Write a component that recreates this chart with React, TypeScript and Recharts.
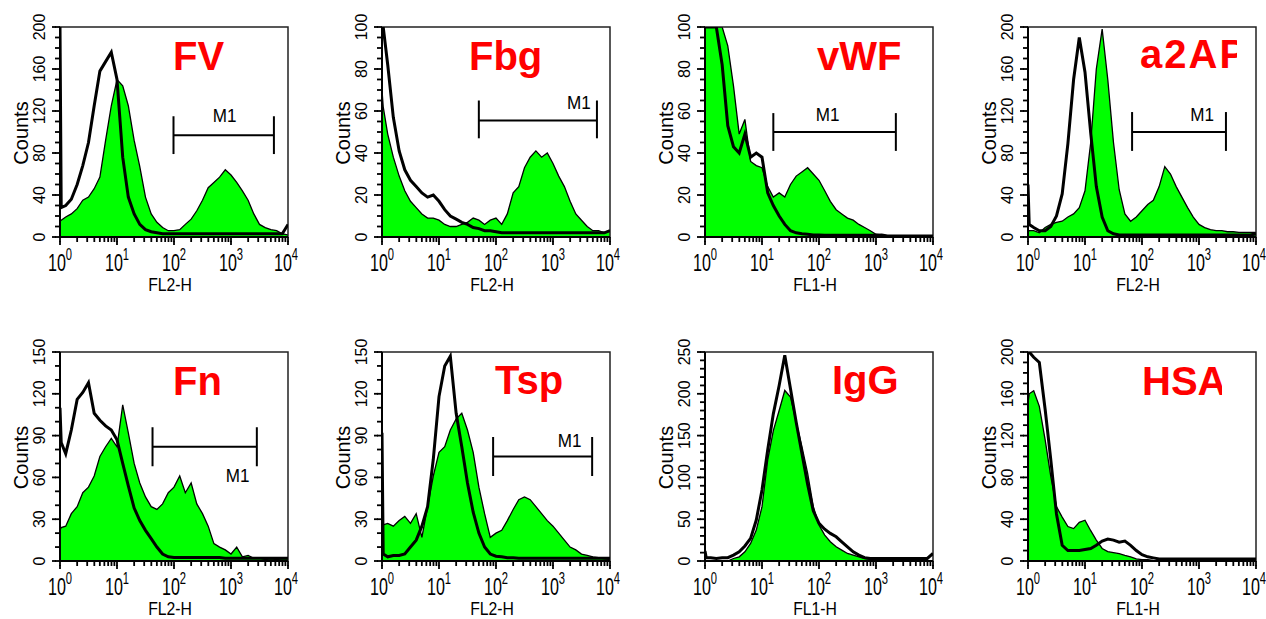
import React from 'react';
import { ComposedChart, Area, Line, XAxis, YAxis, ReferenceArea, ReferenceLine } from 'recharts';

// ---------- DATA ----------
// fluorescence channel values (log axis, 10^0 .. 10^4)
const FL = [1, 1.05, 1.26, 1.58, 2, 2.51, 3.16, 3.98, 5.01, 6.31, 7.94, 10, 12.6, 15.8, 20, 25.1, 31.6, 39.8, 50.1, 63.1, 79.4, 100, 126, 158, 200, 251, 316, 398, 501, 631, 794, 1000, 1259, 1585, 1995, 2512, 3162, 3981, 5012, 6310, 7943, 10000];

const X_MAJOR = [1, 10, 100, 1000, 10000];
const X_MINOR_MULT = [2, 3, 4, 5, 6, 7, 8, 9];

const TITLES = ['FV', 'Fbg', 'vWF', 'a2AP', 'Fn', 'Tsp', 'IgG', 'HSA'];
const X_LABELS = ['FL2-H', 'FL2-H', 'FL1-H', 'FL2-H', 'FL2-H', 'FL2-H', 'FL1-H', 'FL1-H'];
const Y_MAX = [200, 100, 100, 200, 150, 150, 250, 200];
const Y_LABEL_STEP = [40, 20, 20, 40, 30, 30, 50, 40];
const Y_MINOR_STEP = [10, 5, 5, 10, 10, 10, 10, 10];

const FV_GREEN = [15, 16, 19, 22, 27, 35, 38, 46, 57, 92, 125, 150, 144, 125, 92, 67, 38, 22, 14, 9, 6, 6, 7, 12, 17, 25, 35, 47, 52, 57, 64, 59, 52, 44, 35, 22, 12, 9, 7, 6, 3, 2];
const FV_BLACK = [200, 28, 30, 36, 50, 68, 90, 125, 158, 167, 176, 150, 76, 38, 22, 12, 7, 5, 4, 3, 3, 3, 3, 3, 3, 3, 3, 3, 3, 3, 3, 3, 3, 3, 3, 3, 3, 3, 3, 3, 3, 12];

const FBG_GREEN = [70, 62, 49, 38, 29, 22, 17, 14, 11, 9, 9, 8, 6, 5, 5, 6, 7, 9, 8, 6, 8, 9, 6, 11, 21, 24, 33, 38, 41, 38, 40, 35, 29, 24, 17, 11, 8, 5, 3, 3, 2, 3];
const FBG_BLACK = [100, 100, 82, 57, 41, 32, 27, 24, 21, 19, 20, 17, 13, 10, 8.5, 7, 6, 4.5, 4, 3, 3, 2.5, 2, 2, 2, 2, 2, 2, 2, 2, 2, 2, 2, 2, 2, 2, 2, 2, 2, 2, 2, 3];

const VWF_GREEN = [100, 100, 100, 100, 100, 91, 72, 49, 56, 36, 34, 33, 24, 19, 21, 19, 25, 29, 31, 33, 30, 27, 22, 17, 13, 11, 9, 8, 6, 4.5, 3, 1.3, 1, 0.5, 0, 0, 0, 0, 0, 0, 0, 0];
const VWF_BLACK = [100, 100, 100, 100, 82, 53, 43, 40, 49, 38, 40, 38, 21, 15, 10, 6, 3, 2, 1.5, 1.3, 1, 1, 0.8, 0.8, 0.8, 0.8, 0.8, 0.8, 0.8, 0.8, 0.8, 0.8, 1, 0.5, 0.5, 0.5, 0.5, 0.5, 0.5, 0.5, 0.5, 0.5];

const A2AP_GREEN = [5, 6, 6, 4, 9, 12, 14, 15, 19, 22, 28, 44, 90, 160, 198, 150, 90, 45, 22, 15, 19, 25, 31, 35, 48, 67, 60, 48, 38, 28, 19, 12, 9, 7, 6, 6, 5, 5, 4.5, 4.5, 4.5, 4.5];
const A2AP_BLACK = [50, 12, 9, 6, 6, 10, 20, 41, 89, 150, 190, 157, 99, 48, 19, 6, 3, 2, 2, 2, 2, 2, 2, 2, 2, 2, 2, 2, 2, 2, 2, 2, 2, 2, 2, 2, 2, 2, 2, 2, 2, 3];

const FN_GREEN = [22, 24, 25, 34, 39, 49, 53, 61, 75, 82, 88, 82, 112, 92, 70, 56, 46, 39, 37, 41, 49, 53, 61, 49, 56, 41, 34, 25, 12.5, 10, 8, 5, 10, 3, 4, 2, 2, 1, 1.5, 1, 1.5, 1.5];
const FN_BLACK = [110, 85, 77, 94, 116, 121, 128, 106, 101, 97, 94, 87, 70, 54, 38, 29, 22, 16, 10, 5, 3, 2.5, 2.5, 2.5, 2.5, 2.5, 2.5, 2.5, 2.5, 2.5, 2, 2, 2, 2, 2, 2, 2, 2, 2, 2, 2, 2];

const TSP_GREEN = [25, 26, 27, 25, 29, 32, 27, 34, 17, 39, 61, 78, 82, 94, 102, 106, 94, 78, 53, 34, 17, 20, 22, 29, 37, 44, 46, 44, 39, 34, 29, 25, 20, 15, 10, 8, 5, 4, 3, 2.4, 1.5, 1];
const TSP_BLACK = [92, 5, 3, 4, 4, 5, 10, 15, 25, 39, 73, 118, 140, 147, 106, 82, 56, 35, 20, 10, 5, 3.4, 3, 2.4, 2.4, 2, 2, 2, 2, 2, 2, 2, 2, 2, 2, 2, 2, 2, 2, 2, 2, 2];

const IGG_GREEN = [0, 0, 0, 0, 0, 0, 3, 5, 11, 21, 37, 65, 121, 156, 180, 204, 196, 166, 137, 105, 65, 43, 31, 23, 17, 13, 9, 7, 5, 3, 2, 1, 0, 0, 0, 0, 0, 0, 0, 0, 0, 0];
const IGG_BLACK = [12, 4, 4, 3, 4, 4, 7, 11, 18, 27, 49, 85, 133, 176, 210, 246, 206, 166, 129, 92, 60, 45, 38, 33, 29, 23, 17, 11, 7, 4, 3, 3, 3, 3, 3, 3, 3, 3, 3, 3, 3, 9];

const HSA_GREEN = [151, 160, 163, 148, 116, 81, 52, 42, 33, 31, 37, 39, 29, 20, 12, 9, 8, 7, 5.4, 4, 2, 1.3, 1.3, 0.6, 0, 0, 0, 0, 0, 0, 0, 0, 0, 0, 0, 0, 0, 0, 0, 0, 0, 0];
const HSA_BLACK = [200, 200, 195, 190, 145, 97, 45, 15, 10, 10, 10, 11, 12, 15, 19, 21, 20, 18, 19, 15, 10, 6, 4, 3, 2, 2, 2, 2, 2, 2, 2, 2, 2, 2, 2, 2, 2, 2, 2, 2, 2, 2];

const GREEN_SERIES = [FV_GREEN, FBG_GREEN, VWF_GREEN, A2AP_GREEN, FN_GREEN, TSP_GREEN, IGG_GREEN, HSA_GREEN];
const BLACK_SERIES = [FV_BLACK, FBG_BLACK, VWF_BLACK, A2AP_BLACK, FN_BLACK, TSP_BLACK, IGG_BLACK, HSA_BLACK];

// M1 gate limits (channel values); null = no gate
const M1_GATES: (number[] | null)[] = [[98, 5660], [50, 5900], [15.8, 2230], [67, 2970], [42, 2840], [89, 4860], null, null];
// M1 gate bar height in counts: [tick low, bar, tick high]
const M1_LEVEL: (number[] | null)[] = [[79, 97, 115], [47, 55.5, 65], [41, 50, 59], [82, 100, 119], [68, 82, 96], [61, 75, 89], null, null];

// ---------- LAYOUT ----------
const FONT = '"Liberation Sans", Arial, Helvetica, sans-serif';
const COL_LEFT = [60, 382, 705, 1028];
const ROW_TOP = [27, 352];
const PLOT_W = 228;
const PLOT_H = [210, 209];
const RIGHT_PAD = 24;
const TICK = 5;
const M1_LABEL_OFFSET = [[1, -13], [41, -11], [-7, -11], [23, -11], [33, 35], [27, -10], [0, 0], [0, 0]];
const TITLE_POS = [[173, 70], [469, 70], [817, 70], [1140, 68], [173, 395], [495, 394], [832, 394], [1142, 395]];
const TITLE_CLIP = [null, null, null, 1237, null, null, null, 1222];
const TITLE_SPACING = [0, 0, 0, 2, 0, 0, 0, 0];

const X_TICKS = [
  ...X_MAJOR,
  ...X_MAJOR.slice(0, 4).flatMap((d) => X_MINOR_MULT.map((m) => m * d)),
].sort((a, b) => a - b);

function XTick(props: any) {
  const { x, y, payload } = props;
  const v = payload.value;
  const e = Math.log10(v);
  const major = Math.abs(e - Math.round(e)) < 1e-6;
  if (!major) return <g />;
  const shift = v === 10000 ? -2 : 0;
  return (
    <g>
      <path d={`M${x},${y - 1}L${x},${y + 3}`} stroke="#000" strokeWidth={1.8} fill="none" />
      <text transform={`translate(${x + shift},${y + 29}) scale(0.7,1)`} textAnchor="middle" fontFamily={FONT} fontSize={23} fill="#000" stroke="none">
        10<tspan dy={-11} fontSize={16}>{Math.round(e)}</tspan>
      </text>
    </g>
  );
}

function YTick(props: any) {
  const { x, y, payload, labelStep } = props;
  const v = payload.value;
  const major = v % labelStep === 0;
  if (!major) return <g />;
  return (
    <g>
      <path d={`M${x - 3},${y}L${x + 1},${y}`} stroke="#000" strokeWidth={1.8} fill="none" />
      <text transform={`translate(${x - 10},${y}) rotate(-90)`} textAnchor="middle" fontFamily={FONT} fontSize={16} fill="#000" stroke="none">
        {v}
      </text>
    </g>
  );
}

function Panel({ idx }: { idx: number }) {
  const col = idx % 4;
  const row = Math.floor(idx / 4);
  const plotLeft = COL_LEFT[col];
  const plotTop = ROW_TOP[row];
  const plotH = PLOT_H[row];
  const W = 60 + PLOT_W + RIGHT_PAD;
  const H = 20 + plotH + 70;
  const green = GREEN_SERIES[idx];
  const black = BLACK_SERIES[idx];
  const data = FL.map((x, i) => ({ x, g: green[i], b: black[i] }));
  const yMax = Y_MAX[idx];
  const yTicks: number[] = [];
  for (let v = 0; v <= yMax; v += Y_MINOR_STEP[idx]) yTicks.push(v);
  const gate = M1_GATES[idx];
  const lvl = M1_LEVEL[idx];
  const [ldx, ldy] = M1_LABEL_OFFSET[idx];
  const xLabel = X_LABELS[idx];
  const labelStep = Y_LABEL_STEP[idx];

  return (
    <div style={{ position: 'absolute', left: plotLeft - 60, top: plotTop - 20, width: W, height: H }}>
      <ComposedChart width={W} height={H} data={data} margin={{ top: 20, right: RIGHT_PAD, bottom: 20, left: 10 }}>
        <XAxis
          dataKey="x"
          type="number"
          scale="log"
          domain={[1, 10000]}
          allowDataOverflow
          ticks={X_TICKS}
          interval={0}
          tickSize={TICK}
          tickMargin={0}
          height={50}
          stroke="#000"
          tickLine={{ stroke: '#000', strokeWidth: 1.8 }}
          axisLine={{ stroke: '#000', strokeWidth: 2 }}
          tick={(t: any) => <XTick {...t} />}
          label={(lp: any) => {
            const vb = lp && lp.viewBox;
            if (!vb) return null;
            return (
              <text transform={`translate(${vb.x + vb.width / 2 - 4},${vb.y + 54}) scale(0.83,1)`} textAnchor="middle" fontFamily={FONT} fontSize={19} fill="#000">
                {xLabel}
              </text>
            );
          }}
        />
        <YAxis
          type="number"
          domain={[0, yMax]}
          allowDataOverflow
          ticks={yTicks}
          interval={0}
          width={50}
          tickSize={TICK}
          tickMargin={0}
          stroke="#000"
          tickLine={{ stroke: '#000', strokeWidth: 1.8 }}
          axisLine={{ stroke: '#000', strokeWidth: 2 }}
          tick={(t: any) => <YTick {...t} labelStep={labelStep} />}
          label={(lp: any) => {
            const vb = lp && lp.viewBox;
            if (!vb) return null;
            return (
              <text transform={`translate(${vb.x + vb.width - 32},${vb.y + vb.height / 2 + 1}) rotate(-90)`} textAnchor="middle" fontFamily={FONT} fontSize={20} fill="#000">
                Counts
              </text>
            );
          }}
        />
        <Area dataKey="g" type="linear" fill="#00ff00" fillOpacity={1} stroke="#000" strokeWidth={1.3} dot={false} activeDot={false} isAnimationActive={false} />
        <Line dataKey="b" type="linear" stroke="#000" strokeWidth={3} dot={false} activeDot={false} isAnimationActive={false} />
        <ReferenceArea x1={1} x2={10000} y1={0} y2={yMax} fill="none" stroke="#222" strokeWidth={1.5} fillOpacity={0} />
        {gate && lvl && (
          <ReferenceLine
            segment={[{ x: gate[0], y: lvl[1] }, { x: gate[1], y: lvl[1] }]}
            stroke="#000"
            strokeWidth={2}
            label={(lp: any) => {
              const vb = lp && lp.viewBox;
              if (!vb) return null;
              return (
                <text transform={`translate(${vb.x + vb.width / 2 + ldx},${vb.y + ldy}) scale(0.9,1)`} textAnchor="middle" fontFamily={FONT} fontSize={19} fill="#000">
                  M1
                </text>
              );
            }}
          />
        )}
        {gate && lvl && (
          <ReferenceLine segment={[{ x: gate[0], y: lvl[0] }, { x: gate[0], y: lvl[2] }]} stroke="#000" strokeWidth={2} />
        )}
        {gate && lvl && (
          <ReferenceLine segment={[{ x: gate[1], y: lvl[0] }, { x: gate[1], y: lvl[2] }]} stroke="#000" strokeWidth={2} />
        )}
      </ComposedChart>
    </div>
  );
}

export default function App() {
  return (
    <div style={{ position: 'absolute', left: 0, top: 0, width: 1266, height: 619, background: '#fff', overflow: 'hidden' }}>
      {TITLES.map((_, i) => (
        <Panel key={i} idx={i} />
      ))}
      <svg width={1266} height={619} style={{ position: 'absolute', left: 0, top: 0, pointerEvents: 'none' }}>
        <defs>
          {TITLE_CLIP.map((c, i) =>
            c ? (
              <clipPath key={i} id={`tclip${i}`}>
                <rect x={0} y={0} width={c} height={619} />
              </clipPath>
            ) : null
          )}
        </defs>
        {TITLES.map((t, i) => (
          <text
            key={t}
            x={TITLE_POS[i][0]}
            y={TITLE_POS[i][1]}
            fontFamily={FONT}
            fontWeight="bold"
            fontSize={40}
            letterSpacing={TITLE_SPACING[i]}
            fill="#ff0000"
            clipPath={TITLE_CLIP[i] ? `url(#tclip${i})` : undefined}
          >
            {t}
          </text>
        ))}
      </svg>
    </div>
  );
}
